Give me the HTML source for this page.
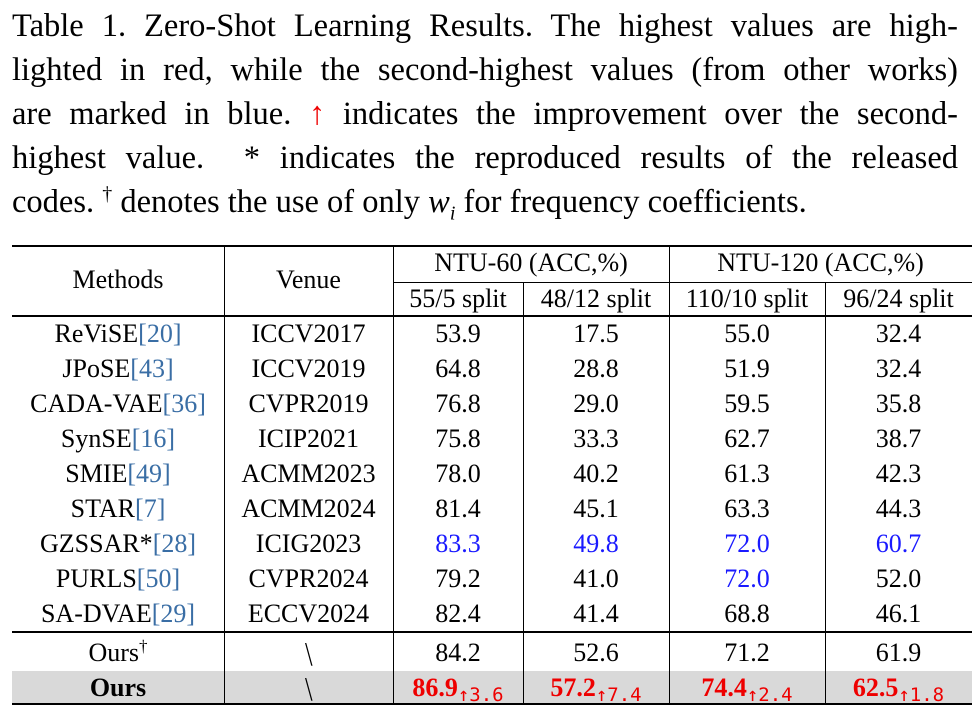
<!DOCTYPE html>
<html><head><meta charset="utf-8">
<style>
body{margin:0;width:976px;height:715px;background:#fff;position:relative;overflow:hidden;font-family:"Liberation Serif",serif;color:#000}
.cap{position:absolute;left:12px;width:946px;height:44px;font-size:32.5px;line-height:44px;text-align:justify;text-align-last:justify;white-space:nowrap}
.cap.last{text-align-last:left}
.cap sup,.cap sub{line-height:0}
.r{color:#e00}.b{color:#1a1aff}.ref{color:#3a6ea5}
.hl{position:absolute;background:#000}
.vl{position:absolute;width:1px;background:#000}
.c{position:absolute;font-size:26px;text-align:center;line-height:35px;height:35px;white-space:nowrap}
.c sup{line-height:0}
.bold{font-weight:bold}
.bs{font-size:34px;display:inline-block;transform:scaleX(0.8)}
sub.s{font-family:"DejaVu Sans Mono","Liberation Mono",monospace;font-size:19px;font-weight:normal;vertical-align:-5px;line-height:0}
</style></head><body>
<div class="cap" style="top:4px">Table 1. Zero-Shot Learning Results. The highest values are high-</div>
<div class="cap" style="top:48px">lighted in red, while the second-highest values (from other works)</div>
<div class="cap" style="top:92px">are marked in blue. <span class="r">↑</span> indicates the improvement over the second-</div>
<div class="cap" style="top:136px">highest value. &nbsp;* indicates the reproduced results of the released</div>
<div class="cap last" style="top:180px">codes. <sup style="font-size:20px">†</sup> denotes the use of only <i>w<sub style="font-size:20px">i</sub></i> for frequency coefficients.</div>

<div id="tbl">
<div class="hl" style="left:12px;width:960px;top:245px;height:2px"></div>
<div class="hl" style="left:393px;width:579px;top:282px;height:1px"></div>
<div class="hl" style="left:12px;width:960px;top:315px;height:2px"></div>
<div class="hl" style="left:12px;width:960px;top:631px;height:2px"></div>
<div style="position:absolute;left:12px;width:960px;top:671px;height:32px;background:#d9d9d9"></div>
<div class="hl" style="left:12px;width:960px;top:703px;height:2px"></div>
<div class="vl" style="left:224px;top:247px;height:456px"></div>
<div class="vl" style="left:393px;top:247px;height:456px"></div>
<div class="vl" style="left:523px;top:283px;height:420px"></div>
<div class="vl" style="left:669px;top:247px;height:456px"></div>
<div class="vl" style="left:825px;top:283px;height:420px"></div>

<div class="c" style="left:12px;width:212px;top:262px">Methods</div>
<div class="c" style="left:224px;width:169px;top:262px">Venue</div>
<div class="c" style="left:393px;width:276px;top:245px">NTU-60 (ACC,%)</div>
<div class="c" style="left:669px;width:303px;top:245px">NTU-120 (ACC,%)</div>
<div class="c" style="left:393px;width:130px;top:281px">55/5 split</div>
<div class="c" style="left:523px;width:146px;top:281px">48/12 split</div>
<div class="c" style="left:669px;width:156px;top:281px">110/10 split</div>
<div class="c" style="left:825px;width:147px;top:281px">96/24 split</div>
</div>
<script>
const methods=["ReViSE","JPoSE","CADA-VAE","SynSE","SMIE","STAR","GZSSAR*","PURLS","SA-DVAE"];
const refs=["20","43","36","16","49","7","28","50","29"];
const venues=["ICCV2017","ICCV2019","CVPR2019","ICIP2021","ACMM2023","ACMM2024","ICIG2023","CVPR2024","ECCV2024"];
const vals=[["53.9","17.5","55.0","32.4"],["64.8","28.8","51.9","32.4"],["76.8","29.0","59.5","35.8"],["75.8","33.3","62.7","38.7"],["78.0","40.2","61.3","42.3"],["81.4","45.1","63.3","44.3"],["83.3","49.8","72.0","60.7"],["79.2","41.0","72.0","52.0"],["82.4","41.4","68.8","46.1"]];
const blue=[[6,0],[6,1],[6,2],[6,3],[7,2]];
const oursDag=["84.2","52.6","71.2","61.9"];
const ours=["86.9","57.2","74.4","62.5"];
const gains=["3.6","7.4","2.4","1.8"];
const cols=[[12,212],[224,169],[393,130],[523,146],[669,156],[825,147]];
const t=document.getElementById('tbl');
function cell(x,w,y,html,name,extra){const d=document.createElement('div');d.className='c'+(extra||'');d.style.left=x+'px';d.style.width=w+'px';d.style.top=y+'px';d.innerHTML=html;


t.appendChild(d);}
methods.forEach((m,i)=>{const y=316+i*35;
cell(cols[0][0],cols[0][1],y,m+'<span class="ref">['+refs[i]+']</span>','method-'+i);
cell(cols[1][0],cols[1][1],y,venues[i],'venue-'+i);
vals[i].forEach((v,j)=>{const isB=blue.some(p=>p[0]==i&&p[1]==j);
cell(cols[j+2][0],cols[j+2][1],y,isB?'<span class="b">'+v+'</span>':v,'value-'+i+'-'+j);});});
cell(cols[0][0],cols[0][1],635,'Ours<sup style="font-size:17px">†</sup>','method-ours-dagger');
cell(cols[1][0],cols[1][1],637,'<span class="bs">\\</span>','venue-ours-dagger');
oursDag.forEach((v,j)=>cell(cols[j+2][0],cols[j+2][1],635,v,'value-ours-dagger-'+j));
cell(cols[0][0],cols[0][1],670,'Ours','method-ours',' bold');
cell(cols[1][0],cols[1][1],672,'<span class="bs">\\</span>','venue-ours');
ours.forEach((v,j)=>cell(cols[j+2][0],cols[j+2][1],670,'<span class="r bold">'+v+'<sub class="s">↑'+gains[j]+'</sub></span>','value-ours-'+j));
</script>
</body></html>
